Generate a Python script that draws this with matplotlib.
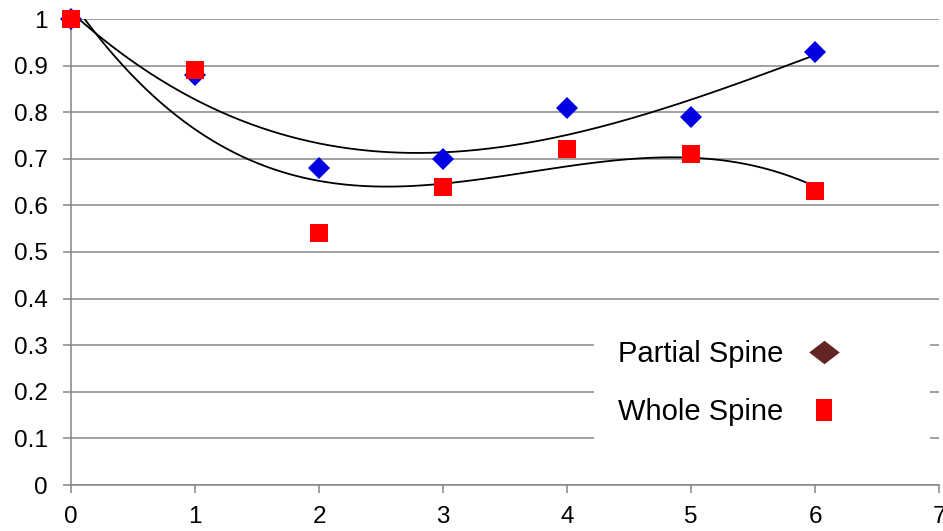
import numpy as np
import matplotlib
matplotlib.use("Agg")
import matplotlib.pyplot as plt
from matplotlib.lines import Line2D

# Relative values per time point for the two spine groups
x_points = [0, 1, 2, 3, 4, 5, 6]
partial_spine = [1.00, 0.88, 0.68, 0.70, 0.81, 0.79, 0.93]
whole_spine = [1.00, 0.89, 0.54, 0.64, 0.72, 0.71, 0.63]
x_ticks = [0, 1, 2, 3, 4, 5, 6, 7]
y_ticks = [0, 0.1, 0.2, 0.3, 0.4, 0.5, 0.6, 0.7, 0.8, 0.9, 1]
y_tick_labels = ["0", "0.1", "0.2", "0.3", "0.4", "0.5", "0.6", "0.7", "0.8", "0.9", "1"]
series_names = ["Partial Spine", "Whole Spine"]

GRID = "#868686"
BLUE = "#0000E0"
RED = "#FF0000"
LEGEND_DIAMOND = "#632523"

plt.rcParams["font.family"] = ["Liberation Sans", "DejaVu Sans"]

fig = plt.figure(figsize=(9.43, 5.31), dpi=100)
ax = fig.add_axes([71 / 943, 46 / 531, 868 / 943, 466 / 531])

ax.set_xlim(0, 7)
ax.set_ylim(0, 1)
ax.set_xticks(x_ticks)
ax.set_yticks(y_ticks)
ax.set_yticklabels(y_tick_labels)

ax.grid(axis="y", color=GRID, linewidth=1.1, zorder=0)
ax.set_axisbelow(True)
for side in ("top", "right"):
    ax.spines[side].set_visible(False)
for side in ("left", "bottom"):
    ax.spines[side].set_color(GRID)
    ax.spines[side].set_linewidth(1.1)

ax.tick_params(axis="y", direction="out", length=6, width=1.1, color=GRID,
               labelsize=17.5, pad=11)
ax.tick_params(axis="x", direction="out", length=6, width=1.1, color=GRID,
               labelsize=17.5, pad=9)

# Cubic polynomial trend lines
xs = np.linspace(x_points[0], x_points[-1], 300)
for ys in (partial_spine, whole_spine):
    coef = np.polyfit(x_points, ys, 3)
    ax.plot(xs, np.polyval(coef, xs), color="black", linewidth=1.3, zorder=2)

ax.plot(x_points, partial_spine, linestyle="none", marker="D", markersize=11.5,
        color=BLUE, markeredgewidth=0, zorder=3, clip_on=False)
ax.plot(x_points, whole_spine, linestyle="none", marker="s", markersize=13,
        color=RED, markeredgewidth=0, zorder=4, clip_on=False)

diamond = [(-1, 0), (0, 0.77), (1, 0), (0, -0.77), (-1, 0)]
tall_rect = [(-0.68, -1), (0.68, -1), (0.68, 1), (-0.68, 1), (-0.68, -1)]
handles = [
    Line2D([], [], linestyle="none", marker=diamond, markersize=22,
           color=LEGEND_DIAMOND, markeredgewidth=0),
    Line2D([], [], linestyle="none", marker=tall_rect, markersize=16,
           color=RED, markeredgewidth=0),
]
leg = ax.legend(handles, series_names, loc="upper left",
                bbox_to_anchor=(0.603, 0.0, 0.387, 0.3605), mode="expand",
                bbox_transform=ax.transAxes, markerfirst=False, fontsize=21,
                frameon=True, fancybox=False, framealpha=1, edgecolor="none",
                facecolor="white", borderpad=0.8, labelspacing=1.03,
                handlelength=1.0, handletextpad=0.9, borderaxespad=0)
leg.set_zorder(5)

fig.savefig("out.png", dpi=100)
